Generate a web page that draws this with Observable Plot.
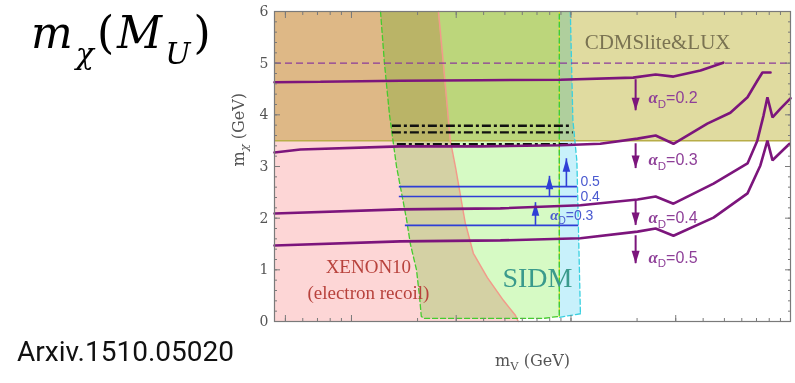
<!DOCTYPE html>
<html>
<head>
<meta charset="utf-8">
<script src="https://cdn.jsdelivr.net/npm/d3@7"></script>
<script src="https://cdn.jsdelivr.net/npm/@observablehq/plot@0.6"></script>
<style>
  body { margin: 0; background: #fff; }
  #wrap { position: relative; width: 795px; height: 383px; overflow: hidden; }
  #title { position: absolute; left: 31px; top: 11px; font-family: "DejaVu Serif", serif; font-size: 44px; line-height: 44px; color: #000; white-space: nowrap; letter-spacing: 3px; }
  #title i { font-style: italic; }
  #title sub { font-size: 30px; vertical-align: -16px; line-height: 0; }
  #ref { position: absolute; left: 17px; top: 338px; font-family: Roboto, sans-serif; font-size: 28px; line-height: 28px; color: #111; white-space: nowrap; }
</style>
</head>
<body>
<div id="wrap">
  <div id="chart"></div>
  <div id="title"><i>m</i><sub><i>χ</i></sub>(<i>M</i><sub><i>U</i></sub>)</div>
  <div id="ref">Arxiv.1510.05020</div>
</div>
<script>
// Axes
const xDomain = [0.00446, 1];
const yDomain = [0, 6];
const xTickValues = [0.005, 0.01, 0.03, 0.1, 0.3, 1];
const xTickLabels = ["0.005", "0.01", "0.03", "0.1", "0.3", "1"];
const yTickValues = [0, 1, 2, 3, 4, 5, 6];

// CDMSlite & LUX exclusion: everything above this mass
const cdmsFloor = 3.5;
const cdmsTop = 6;

// XENON10 (electron recoil) exclusion boundary, excluded to the left
const xenonY = [6, 5, 3.5, 2.98, 1.9, 1.76, 1.32, 0.85, 0.41, 0.12, 0];
const xenonX = [0.0249, 0.0262, 0.0282, 0.0298, 0.0330, 0.0337, 0.0359, 0.0416, 0.0492, 0.0558, 0.0575];

// SIDM-favoured band (green) and its extension (cyan)
const sidmX = [0.01356, 0.01413, 0.0149, 0.01604, 0.01778, 0.01855, 0.01978, 0.0204, 0.0208, 0.0213, 0.0748, 0.0885, 0.0885];
const sidmY = [6, 5, 4, 3, 2, 1.5, 1, 0.5, 0.1, 0.06, 0.06, 0.1, 6];
const sidmExtX = [0.0885, 0.0993, 0.1020, 0.1064, 0.1104, 0.0885];
const sidmExtY = [6, 6, 3.9, 3.1, 0.15, 0.08];

// Relic-abundance curves m_chi(m_V) for several alpha_D
const curveA02X = [0.00446, 0.00722, 0.0167, 0.0386, 0.0895, 0.192, 0.243, 0.293, 0.389, 0.494];
const curveA02Y = [4.63, 4.64, 4.66, 4.67, 4.68, 4.72, 4.78, 4.74, 4.86, 5.01];
const curveA03X = [0.00446, 0.00585, 0.0167, 0.0386, 0.0895, 0.136, 0.201, 0.243, 0.293, 0.418, 0.532, 0.637, 0.706, 0.745, 0.811];
const curveA03Y = [3.27, 3.33, 3.39, 3.39, 3.41, 3.44, 3.54, 3.60, 3.44, 3.83, 4.04, 4.34, 4.66, 4.82, 4.82];
const curveA04X = [0.00446, 0.0167, 0.0477, 0.1104, 0.201, 0.243, 0.293, 0.446, 0.637, 0.706, 0.754, 0.785, 0.828, 0.900, 1.0];
const curveA04Y = [2.09, 2.17, 2.19, 2.25, 2.36, 2.42, 2.28, 2.67, 3.06, 3.50, 3.99, 4.34, 3.95, 4.12, 4.32];
const curveA05X = [0.00446, 0.0167, 0.0477, 0.1104, 0.201, 0.243, 0.293, 0.446, 0.637, 0.729, 0.785, 0.828, 0.900, 0.99];
const curveA05Y = [1.47, 1.55, 1.57, 1.61, 1.74, 1.80, 1.66, 2.01, 2.48, 3.02, 3.50, 3.12, 3.27, 3.44];

// Reference line at m_chi = 5 GeV
const dashedMass = 5;

// Black dash-dot bounds
const dashDotY = [3.79, 3.66, 3.43];
const dashDotX1 = [0.01536, 0.01536, 0.01618];
const dashDotX2 = [0.0993, 0.1024, 0.1013];

// SIDM lower bounds for alpha_D (blue)
const sidmLineY = [2.61, 2.42, 1.86];
const sidmLineX1 = [0.01652, 0.01652, 0.0176];
const sidmLineX2 = [0.107, 0.107, 0.1085];
const sidmArrowX = [0.0953, 0.0798, 0.0689];
const sidmArrowFrom = [2.61, 2.42, 1.86];
const sidmArrowTo = [3.15, 2.81, 2.30];
const sidmLabels = ["0.5", "0.4", "α_D=0.3"];
const sidmLabelX = [0.1104, 0.1104, 0.0805];
const sidmLabelY = [2.71, 2.42, 2.05];

// Relic arrows and labels (purple)
const relicArrowX = [0.197, 0.197, 0.197, 0.197];
const relicArrowFrom = [4.68, 3.44, 2.34, 1.66];
const relicArrowTo = [4.08, 2.96, 1.86, 1.12];
const relicLabels = ["α_D=0.2", "α_D=0.3", "α_D=0.4", "α_D=0.5"];
const relicLabelX = [0.2253, 0.2253, 0.2253, 0.2253];
const relicLabelY = [4.32, 3.12, 2.01, 1.24];

// Region names
const regionNames = ["CDMSlite&LUX", "XENON10", "(electron recoil)", "SIDM"];
const regionNameX = [0.248, 0.01194, 0.01194, 0.0703];
const regionNameY = [5.40, 1.05, 0.56, 0.85];

// ---- tables built from the arrays above ----
const zip = (xs, ys) => xs.map((x, i) => ({x, y: ys[i]}));
const xenon = zip(xenonX, xenonY);
const sidm = zip(sidmX, sidmY);
const sidmExt = zip(sidmExtX, sidmExtY);
const curves = [
  zip(curveA02X, curveA02Y), zip(curveA03X, curveA03Y),
  zip(curveA04X, curveA04Y), zip(curveA05X, curveA05Y)
];
const cdmsBand = [{x: xDomain[0], y1: cdmsFloor, y2: cdmsTop}, {x: xDomain[1], y1: cdmsFloor, y2: cdmsTop}];
const dashDot = dashDotY.map((y, i) => ({y, x1: dashDotX1[i], x2: dashDotX2[i]}));
const sidmLines = sidmLineY.map((y, i) => ({y, x1: sidmLineX1[i], x2: sidmLineX2[i]}));
const sidmArrows = sidmArrowX.map((x, i) => ({x, y1: sidmArrowFrom[i], y2: sidmArrowTo[i]}));
const sidmText = sidmLabels.map((t, i) => ({t, x: sidmLabelX[i], y: sidmLabelY[i]}));
const relicArrows = relicArrowX.map((x, i) => ({x, y1: relicArrowFrom[i], y2: relicArrowTo[i]}));
const relicText = relicLabels.map((t, i) => ({t, x: relicLabelX[i], y: relicLabelY[i]}));
const names = regionNames.map((t, i) => ({t, x: regionNameX[i], y: regionNameY[i]}));
const xenonFill = xenon.map(d => ({y: d.y, x1: xDomain[0], x2: d.x}));

// Filled arrowheads with the tip at the anchor point
const headUp = {draw(ctx) { ctx.moveTo(0, 0); ctx.lineTo(-3.8, 13); ctx.lineTo(3.8, 13); ctx.closePath(); }};
const headDown = {draw(ctx) { ctx.moveTo(0, 0); ctx.lineTo(-4, -13); ctx.lineTo(4, -13); ctx.closePath(); }};

const purple = "#7c157c";
const purpleText = "#8e3f98";
const blue = "#2f3fd6";
const blueText = "#4a5ad0";
const axisInk = "#555";
const frameInk = "#7a7a7a";
const axisFont = "DejaVu Serif, serif";

const chart = Plot.plot({
  width: 795,
  height: 383,
  marginLeft: 274,
  marginRight: 5,
  marginTop: 11,
  marginBottom: 62,
  x: {type: "log", domain: xDomain},
  y: {domain: yDomain},
  style: {background: "white", fontFamily: "Liberation Serif, serif"},
  marks: [
    // shaded regions
    Plot.areaY(cdmsBand, {x: "x", y1: "y1", y2: "y2", fill: "#e0dba0"}),
    Plot.areaX(xenonFill, {y: "y", x1: "x1", x2: "x2", fill: "#fdd6d6", mixBlendMode: "multiply"}),
    Plot.line(sidm, {x: "x", y: "y", curve: "linear-closed", fill: "#d6fac4", stroke: "none", mixBlendMode: "multiply"}),
    Plot.line(sidmExt, {x: "x", y: "y", curve: "linear-closed", fill: "#c8f1fb", stroke: "none", mixBlendMode: "multiply"}),

    // region borders
    Plot.ruleY([cdmsFloor], {stroke: "#b8ad48", strokeWidth: 1.5}),
    Plot.line(xenon, {x: "x", y: "y", stroke: "#f29a8a", strokeWidth: 1.5}),
    Plot.line(sidmExt.slice(1, 5), {x: "x", y: "y", stroke: "#39d0e0", strokeWidth: 1.3, strokeDasharray: "5,3"}),
    Plot.line(sidmExt.slice(4).concat(sidmExt.slice(0, 1)), {x: "x", y: "y", stroke: "#39d0e0", strokeWidth: 1.3, strokeDasharray: "5,3"}),
    Plot.line(sidm.slice(-2), {x: "x", y: "y", stroke: "#e8e030", strokeWidth: 1.3, strokeDasharray: "5,3", strokeDashoffset: 4}),
    Plot.line(sidm, {x: "x", y: "y", stroke: "#44cc2e", strokeWidth: 1.3, strokeDasharray: "5,3"}),

    // m_chi = 5 GeV reference
    Plot.ruleY([dashedMass], {stroke: "#8a3a9a", strokeWidth: 1.3, strokeDasharray: "7,4"}),

    // black dash-dot bounds
    Plot.ruleY(dashDot, {y: "y", x1: "x1", x2: "x2", stroke: "#111", strokeWidth: 2.4, strokeDasharray: "9,3,3,3"}),

    // SIDM alpha_D lines and arrows
    Plot.ruleY(sidmLines, {y: "y", x1: "x1", x2: "x2", stroke: blue, strokeWidth: 1.6}),
    Plot.ruleX(sidmArrows, {x: "x", y1: "y1", y2: "y2", stroke: blue, strokeWidth: 1.6}),
    Plot.dot(sidmArrows, {x: "x", y: "y2", symbol: headUp, fill: blue, stroke: "none"}),
    Plot.text(sidmText, {x: "x", y: "y", text: "t", textAnchor: "start", fill: blueText, fontSize: 14, fontFamily: "Liberation Sans, sans-serif"}),

    // relic curves
    ...curves.map(c => Plot.line(c, {x: "x", y: "y", stroke: purple, strokeWidth: 2.6, strokeLinejoin: "miter"})),

    // relic arrows and labels
    Plot.ruleX(relicArrows, {x: "x", y1: "y1", y2: "y2", stroke: purple, strokeWidth: 2}),
    Plot.dot(relicArrows, {x: "x", y: "y2", symbol: headDown, fill: purple, stroke: "none"}),
    Plot.text(relicText, {x: "x", y: "y", text: "t", textAnchor: "start", fill: purpleText, fontSize: 16, fontFamily: "Liberation Sans, sans-serif"}),

    // region names
    Plot.text(names.slice(0, 1), {x: "x", y: "y", text: "t", fill: "#7a7352", fontSize: 21}),
    Plot.text(names.slice(1, 3), {x: "x", y: "y", text: "t", fill: "#b8423c", fontSize: 19}),
    Plot.text(names.slice(3), {x: "x", y: "y", text: "t", fill: "#3a9a8c", fontSize: 28}),

    // frame and inward ticks
    Plot.frame({stroke: frameInk, strokeWidth: 1.2}),
    Plot.axisX({anchor: "bottom", ticks: 10, tickSize: 3, dy: -3, fill: "none", stroke: frameInk, label: null}),
    Plot.axisX({anchor: "bottom", ticks: xTickValues, tickSize: 6, dy: -6, fill: "none", stroke: frameInk, label: null}),
    Plot.axisX({anchor: "top", ticks: 10, tickSize: 3, dy: 3, fill: "none", stroke: frameInk, label: null}),
    Plot.axisX({anchor: "top", ticks: xTickValues, tickSize: 6, dy: 6, fill: "none", stroke: frameInk, label: null}),
    Plot.axisY({anchor: "left", ticks: 30, tickSize: 3, dx: 3, fill: "none", stroke: frameInk, label: null}),
    Plot.axisY({anchor: "left", ticks: yTickValues, tickSize: 6, dx: 6, fill: "none", stroke: frameInk, label: null}),
    Plot.axisY({anchor: "right", ticks: 30, tickSize: 3, dx: -3, fill: "none", stroke: frameInk, label: null}),
    Plot.axisY({anchor: "right", ticks: yTickValues, tickSize: 6, dx: -6, fill: "none", stroke: frameInk, label: null}),

    // tick labels
    Plot.axisX({anchor: "bottom", ticks: xTickValues, tickFormat: (d, i) => xTickLabels[i], tickSize: 0, tickPadding: 5, fontSize: 14, fontFamily: axisFont, fill: axisInk, label: null}),
    Plot.axisY({anchor: "left", ticks: yTickValues, tickFormat: d => String(d), tickSize: 0, tickPadding: 6, fontSize: 14, fontFamily: axisFont, fill: axisInk, label: null}),

    // axis titles
    Plot.text(["m_V (GeV)"], {text: d => d, frameAnchor: "bottom", dy: 44, fontSize: 16, fontFamily: axisFont, fill: axisInk}),
    Plot.text(["m_χ (GeV)"], {text: d => d, frameAnchor: "left", dx: -36, rotate: -90, fontSize: 16, fontFamily: axisFont, fill: axisInk})
  ]
});

document.getElementById("chart").appendChild(chart);

// Subscripts ("_X") and a bold serif alpha inside SVG labels
const SVGNS = "http://www.w3.org/2000/svg";
chart.querySelectorAll("text").forEach(t => {
  const s = t.textContent;
  if (!s.includes("_")) return;
  const fs = parseFloat(getComputedStyle(t).fontSize) || 16;
  while (t.firstChild) t.removeChild(t.firstChild);
  const parts = s.split(/(_.)/).filter(p => p);
  let lowered = false;
  for (const p of parts) {
    if (p[0] === "_") {
      const ts = document.createElementNS(SVGNS, "tspan");
      ts.textContent = p.slice(1);
      ts.setAttribute("font-size", (fs * 0.72).toFixed(1));
      ts.setAttribute("dy", (fs * 0.3).toFixed(1));
      if (/[α-ω]/.test(p)) ts.setAttribute("font-style", "italic");
      t.appendChild(ts);
      lowered = true;
    } else {
      for (const q of p.split(/(α)/).filter(r => r)) {
        const ts = document.createElementNS(SVGNS, "tspan");
        ts.textContent = q;
        if (lowered) { ts.setAttribute("dy", (-fs * 0.3).toFixed(1)); lowered = false; }
        if (q === "α") {
          ts.setAttribute("font-family", "Liberation Serif, serif");
          ts.setAttribute("font-style", "italic");
          ts.setAttribute("font-weight", "bold");
          ts.setAttribute("font-size", (fs * 1.05).toFixed(1));
        }
        t.appendChild(ts);
      }
    }
  }
});
</script>
</body>
</html>
